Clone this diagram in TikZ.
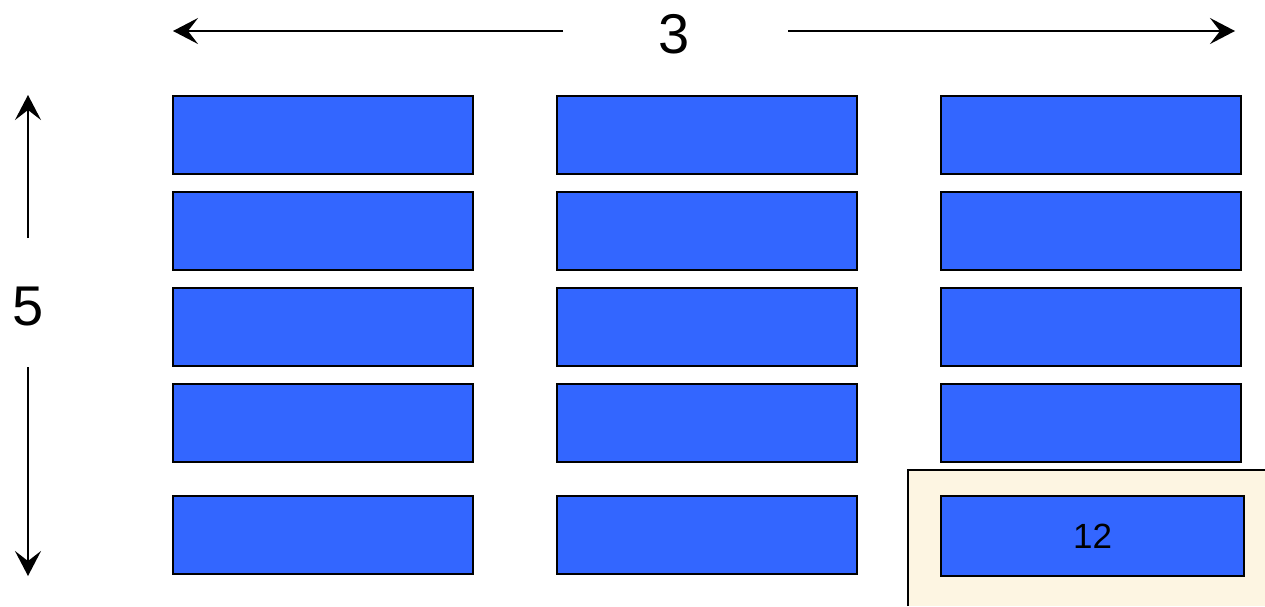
\documentclass[tikz,border=0pt]{standalone}
\usepackage{fontspec}
\setmainfont{Liberation Sans}
\usetikzlibrary{arrows.meta}
\begin{document}
\begin{tikzpicture}[x=1pt,y=-1pt,
  cell/.style={draw=black,line width=2pt,fill=blueA,minimum width=300pt,minimum height=78pt,inner sep=0pt,anchor=north west},
  dimarrow/.style={line width=2pt,-{Stealth[length=25pt,width=26pt,inset=10pt]}},
  biglabel/.style={font=\fontsize{56}{60}\selectfont,inner sep=0pt}]
\definecolor{blueA}{HTML}{3366FF}
\definecolor{beige}{HTML}{FDF5E2}
\useasboundingbox (0,0) rectangle (1265,606);
% beige highlight
\fill[beige] (908,470) rectangle (1265,606);
\draw[line width=2pt] (908,606) -- (908,470) -- (1265,470);
% grid
\foreach \c/\x in {1/172,2/556,3/940}{
  \foreach \r/\y in {1/95,2/191,3/287,4/383}{
    \node[cell] (b\c\r) at (\x,\y) {};
  }
}
\node[cell] (b15) at (172,495) {};
\node[cell] (b25) at (556,495) {};
\node[cell,minimum width=303pt,minimum height=80pt,font=\fontsize{35}{40}\selectfont] (b35) at (940,495) {12};
% dimension labels
\node[biglabel] (three) at (674,34) {3};
\node[biglabel] (five) at (28,307) {5};
\coordinate (tL) at (173,31);
\coordinate (tR) at (1235,31);
\coordinate (lT) at (28,95);
\coordinate (lB) at (28,576);
\draw[dimarrow] (563,31) -- (tL);
\draw[dimarrow] (788,31) -- (tR);
\draw[dimarrow] (28,238) -- (lT);
\draw[dimarrow] (28,367) -- (lB);
\end{tikzpicture}
\end{document}
